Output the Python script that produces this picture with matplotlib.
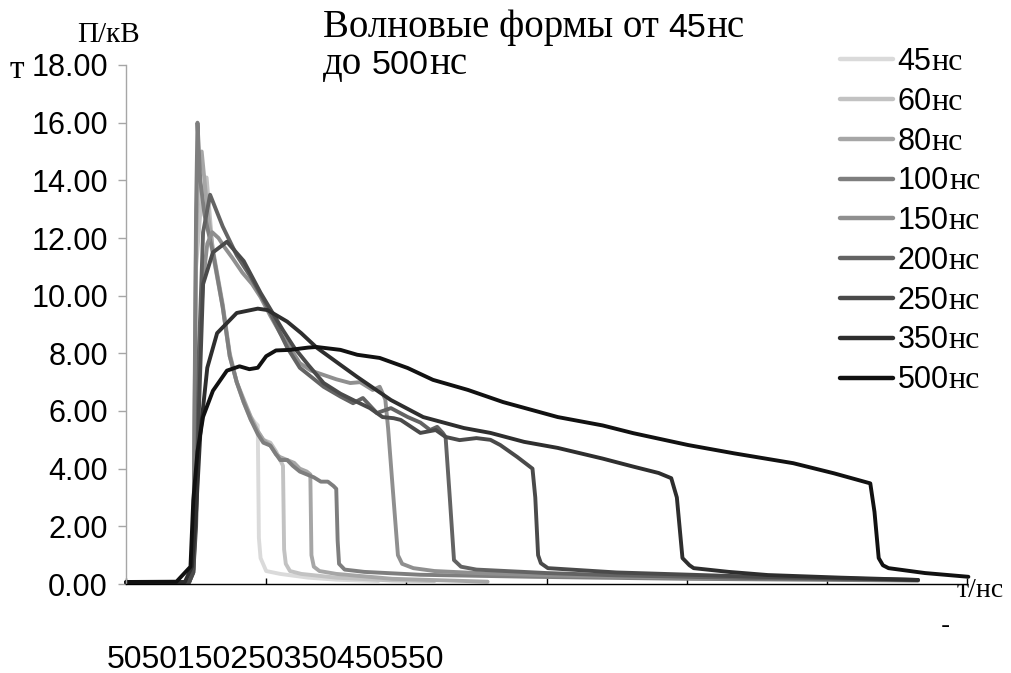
import matplotlib
matplotlib.use('Agg')
import matplotlib.pyplot as plt
from matplotlib.ticker import FormatStrFormatter

# ---------------- data ----------------
labels = ['45', '60', '80', '100', '150', '200', '250', '350', '500']
unit = 'нс'
colors = ['#dadada', '#c2c2c2', '#a6a6a6', '#7e7e7e', '#8f8f8f',
          '#636363', '#4a4a4a', '#2e2e2e', '#111111']

t45 = [-50, -5, -2, 0, 1, 5, 12, 19, 24, 29, 34, 39, 42, 44, 44.8, 46, 50, 60, 80, 100, 130]
v45 = [0.05, 0.06, 0.5, 12.0, 14.5, 13.2, 11.4, 9.6, 7.9, 7.0, 6.3, 5.8, 5.6, 5.5, 1.6, 0.9, 0.45, 0.35, 0.22, 0.15, 0.1]

t60 = [-50, -5, -2, 0, 4, 7.5, 12, 19, 24, 29, 34, 39, 44, 48, 53, 57, 60, 62, 62.8, 64, 67, 75, 100, 140, 170]
v60 = [0.05, 0.06, 0.5, 11.0, 13.5, 14.1, 11.5, 9.6, 7.9, 7.0, 6.3, 5.7, 5.3, 5.0, 4.9, 4.6, 4.3, 4.1, 1.2, 0.7, 0.45, 0.35, 0.22, 0.12, 0.1]

t80 = [-50, -5, -2, 0, 1.5, 4, 8, 12, 19, 24, 29, 34, 39, 44, 48, 53, 57, 60, 65, 70, 74, 79, 81.5, 82.3, 84, 88, 100, 140, 208]
v80 = [0.05, 0.06, 0.5, 12.0, 14.0, 15.0, 13.0, 11.6, 9.7, 8.0, 7.0, 6.4, 5.8, 5.3, 5.0, 4.8, 4.5, 4.4, 4.3, 4.2, 4.0, 3.9, 3.8, 1.0, 0.6, 0.45, 0.35, 0.18, 0.08]

t100 = [-50, -5, -2, 0, 1, 3, 6, 12, 19, 24, 29, 34, 39, 44, 48, 53, 57, 60, 65, 69, 74, 79, 84, 89, 94, 98, 100, 101, 102, 106, 120, 160, 240, 350, 515]
v100 = [0.05, 0.06, 0.5, 13.0, 16.0, 14.0, 12.8, 11.5, 9.6, 7.9, 7.0, 6.3, 5.7, 5.2, 4.9, 4.8, 4.5, 4.3, 4.3, 4.1, 3.9, 3.8, 3.7, 3.55, 3.55, 3.4, 3.3, 1.5, 0.7, 0.5, 0.42, 0.32, 0.25, 0.18, 0.12]

t150 = [-50, -5, -2, 0, 2, 5, 8, 11.5, 16, 20, 26, 33, 40, 46, 53, 60, 67, 74, 82, 91, 100, 110, 117, 126, 131, 135, 137, 140, 144, 147, 155, 170, 200, 250, 300, 400, 515]
v150 = [0.05, 0.06, 0.4, 3.0, 8.0, 10.5, 11.8, 12.2, 12.0, 11.7, 11.3, 10.8, 10.4, 9.95, 9.3, 8.7, 8.2, 7.66, 7.4, 7.25, 7.1, 6.97, 7.0, 6.73, 6.84, 6.4, 5.4, 3.5, 1.0, 0.7, 0.55, 0.45, 0.38, 0.3, 0.25, 0.2, 0.13]

t200 = [-50, -5, -2, 0, 2, 5, 10, 19, 29, 39, 51, 65, 74, 91, 103, 112, 119, 129, 139, 151, 160, 167, 172, 176, 178, 181, 184, 189, 200, 250, 300, 400, 515]
v200 = [0.05, 0.06, 0.4, 2.5, 8.0, 12.2, 13.5, 12.4, 11.4, 10.65, 9.6, 8.2, 7.5, 6.84, 6.5, 6.27, 6.45, 5.93, 6.1, 5.79, 5.6, 5.34, 5.45, 5.24, 5.1, 3.0, 0.83, 0.6, 0.5, 0.38, 0.3, 0.2, 0.14]

t250 = [-50, -5, -2, 0, 2, 5, 12, 22, 34, 46, 62, 70, 80, 91, 103, 115, 124, 133, 141, 146, 155, 160, 171, 178, 188, 200, 210, 217, 229, 236, 240, 242, 244, 246, 251, 300, 400, 515]
v250 = [0.05, 0.06, 0.4, 2.0, 6.0, 10.4, 11.5, 11.87, 11.2, 10.1, 8.8, 8.2, 7.6, 6.97, 6.6, 6.31, 6.1, 5.79, 5.75, 5.69, 5.4, 5.24, 5.34, 5.1, 4.99, 5.06, 5.0, 4.82, 4.41, 4.15, 4.0, 3.0, 1.0, 0.72, 0.55, 0.4, 0.25, 0.14]

t350 = [-50, -8, -3, 0, 3, 8, 15, 29, 39, 44, 51, 65, 75, 86, 103, 115, 139, 162, 191, 210, 234, 258, 290, 312, 330, 339, 343, 347, 352, 355, 380, 408, 460, 515]
v350 = [0.06, 0.07, 0.6, 2.5, 5.2, 7.5, 8.7, 9.4, 9.5, 9.55, 9.5, 9.1, 8.7, 8.2, 7.6, 7.18, 6.38, 5.79, 5.41, 5.24, 4.93, 4.72, 4.35, 4.07, 3.85, 3.67, 3.0, 0.9, 0.65, 0.55, 0.42, 0.31, 0.22, 0.14]

t500 = [-50, -14, -4, -2, 1, 5, 12, 22, 31, 38, 44, 50, 57, 67, 80, 86, 103, 115, 131, 151, 169, 194, 219, 258, 290, 312, 351, 384, 426, 455, 481, 484, 487, 490, 494, 520, 551]
v500 = [0.07, 0.08, 0.6, 2.9, 4.6, 5.8, 6.7, 7.4, 7.55, 7.45, 7.5, 7.9, 8.1, 8.12, 8.2, 8.22, 8.12, 7.95, 7.84, 7.49, 7.08, 6.73, 6.31, 5.79, 5.5, 5.23, 4.82, 4.53, 4.19, 3.84, 3.49, 2.5, 0.9, 0.65, 0.55, 0.38, 0.25]

series_t = [t45, t60, t80, t100, t150, t200, t250, t350, t500]
series_v = [v45, v60, v80, v100, v150, v200, v250, v350, v500]

y_ticks = [0, 2, 4, 6, 8, 10, 12, 14, 16, 18]
x_ticks = [-50, 50, 150, 250, 350, 450, 550]
x_tick_text = '5050150250350450550'

title_line1 = [('Волновые формы от', 'serif'), ('45', 'sans'), ('нс', 'serif')]
title_line2 = [('до', 'serif'), ('500', 'sans'), ('нс', 'serif')]

# ---------------- layout ----------------
W, H = 1011, 673
SERIF = 'Liberation Serif'
SANS = 'Liberation Sans'
plt.rcParams['font.family'] = [SANS, 'DejaVu Sans']

fig = plt.figure(figsize=(W / 100, H / 100), dpi=100)


def fx(px):
    return px / W


def fy(py):
    return 1 - py / H


ax = fig.add_axes([fx(126), fy(584), fx(967) - fx(126), fy(65) - fy(584)])

for t, v, c, lab in zip(series_t, series_v, colors, labels):
    ax.plot(t, v, color=c, lw=2.8, solid_joinstyle='round',
            solid_capstyle='round', label=lab, clip_on=False)

ax.set_xlim(-50, 550)
ax.set_ylim(0, 18)
ax.set_yticks(y_ticks)
ax.yaxis.set_major_formatter(FormatStrFormatter('%.2f'))
ax.set_xticks(x_ticks)
ax.tick_params(axis='x', direction='in', length=4, width=1, color='black',
               labelbottom=False)
ax.tick_params(axis='y', direction='out', length=6, width=1, color='#a6a6a6',
               pad=7, labelsize=22)
for s in ('top', 'right'):
    ax.spines[s].set_visible(False)
ax.spines['left'].set_color('#a6a6a6')
ax.spines['left'].set_linewidth(1)
ax.spines['bottom'].set_color('black')
ax.spines['bottom'].set_linewidth(1)

leg = ax.legend(loc='upper left', bbox_to_anchor=(fx(840), fy(47)),
                bbox_transform=fig.transFigure, frameon=False, fontsize=22,
                handlelength=1.73, handletextpad=0.16, labelspacing=0.32,
                borderpad=0, borderaxespad=0)
for ln in leg.get_lines():
    ln.set_linewidth(3.2)


def place_runs(x_px, base_py, pieces, sizes):
    renderer = fig.canvas.get_renderer()
    x = x_px
    prev_kind = None
    for s, kind in pieces:
        fam = SERIF if kind == 'serif' else SANS
        if prev_kind == 'serif' and kind == 'sans':
            x += 0.25 * sizes['serif'] * 100 / 72
        t = fig.text(fx(x), fy(base_py), s, family=fam, fontsize=sizes[kind],
                     va='baseline', ha='left')
        bb = t.get_window_extent(renderer)
        x += bb.width
        prev_kind = kind


title_sizes = {'serif': 28, 'sans': 24.5}
place_runs(323, 37, title_line1, title_sizes)
place_runs(323, 74, title_line2, title_sizes)

fig.text(fx(77), fy(42), 'П/кВ', family=SERIF, fontsize=21, va='baseline')
fig.text(fx(10), fy(78), 'т', family=SERIF, fontsize=24, va='baseline')
fig.text(fx(957), fy(597), 'т/нс', family=SERIF, fontsize=20, va='baseline')
fig.text(fx(941), fy(633), '-', family=SANS, fontsize=20, va='baseline')
fig.text(fx(107), fy(668), x_tick_text, family=SANS, fontsize=23,
         va='baseline')

# add the serif unit after each legend label (needs final legend positions)
fig.canvas.draw()
renderer = fig.canvas.get_renderer()
for txt in leg.get_texts():
    bb = txt.get_window_extent(renderer)
    fig.text(bb.x1 / W, bb.y0 / H, unit, family=SERIF, fontsize=23,
             va='bottom', ha='left')

fig.savefig('out.png', dpi=100)
